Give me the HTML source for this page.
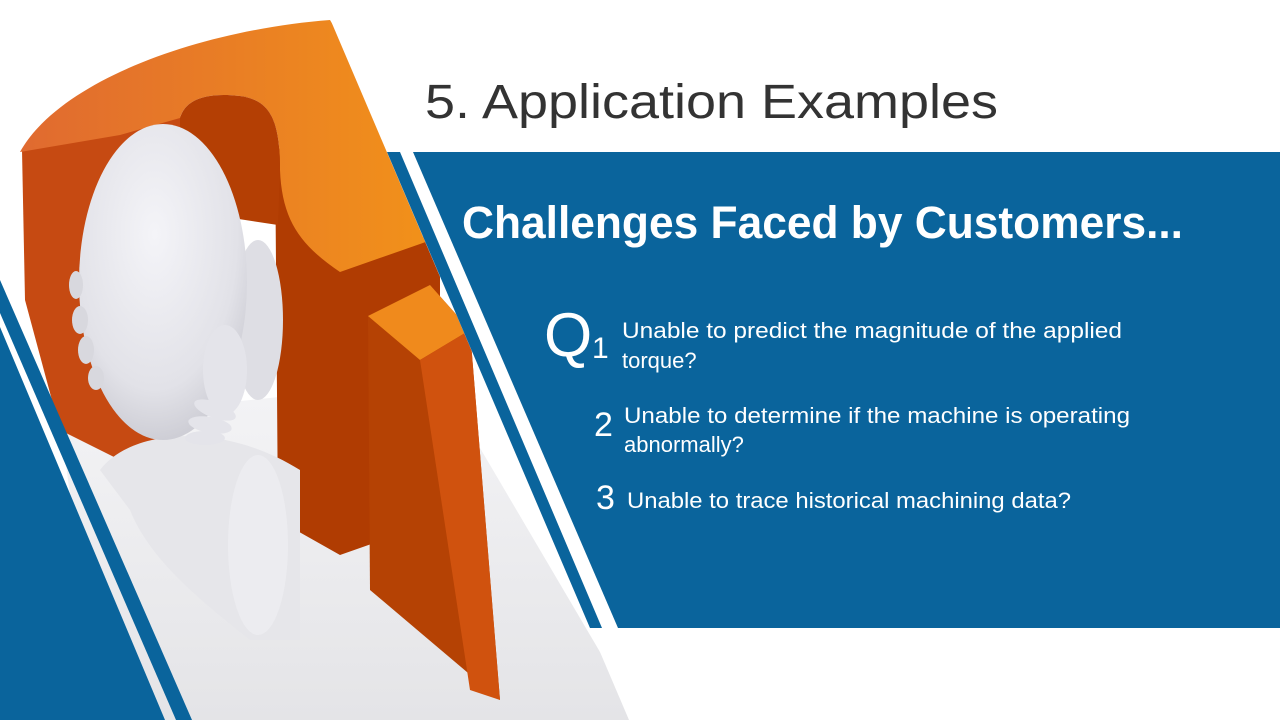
<!DOCTYPE html>
<html><head><meta charset="utf-8"><style>
html,body{margin:0;padding:0;background:#fff;}
svg{display:block;}
</style></head><body>
<svg width="1280" height="720" viewBox="0 0 1280 720" xmlns="http://www.w3.org/2000/svg">
<defs>
<linearGradient id="floor" x1="0" y1="0" x2="0" y2="1">
<stop offset="0" stop-color="#f4f4f6"/><stop offset="1" stop-color="#e4e4e7"/>
</linearGradient>
<radialGradient id="head" cx="0.45" cy="0.35" r="0.7">
<stop offset="0" stop-color="#f4f4f8"/><stop offset="0.7" stop-color="#e2e2e8"/><stop offset="1" stop-color="#c8c8d0"/>
</radialGradient>
<linearGradient id="top" x1="0" y1="0" x2="1" y2="0">
<stop offset="0" stop-color="#e06a30"/><stop offset="1" stop-color="#f39418"/>
</linearGradient>
<clipPath id="pic"><polygon points="0,0 322,0 629,720 0,720"/></clipPath>
</defs>
<rect width="1280" height="720" fill="#fff"/>
<g clip-path="url(#pic)">
<polygon points="60,420 440,380 640,720 100,720" fill="url(#floor)"/>
<path d="M22,150 L180,95 L185,420 L140,470 L60,430 L25,300 Z" fill="#c64a12"/>
<polygon points="275,140 340,270 440,230 440,520 340,555 278,520" fill="#b03c02"/>
<path d="M20,152 C60,80 200,30 330,20 L460,230 L340,272 C300,245 282,220 280,170 C280,120 270,100 240,96 C205,92 185,100 180,118 L120,135 Z" fill="url(#top)"/>
<path d="M180,118 C185,100 205,92 240,96 C270,100 280,120 280,170 L278,225 L180,210 Z" fill="#b43f04"/>
<polygon points="368,316 430,285 470,330 500,700 370,590" fill="#b54204"/>
<polygon points="368,316 430,285 470,330 420,360" fill="#f08a1c"/>
<polygon points="420,360 470,330 500,700 470,690" fill="#d0520e"/>
<path d="M100,470 C130,430 220,420 300,470 L300,640 L250,640 C200,600 150,560 130,510 Z" fill="#e6e6ea"/>
<ellipse cx="258" cy="545" rx="30" ry="90" fill="#ececf0"/>
<ellipse cx="258" cy="320" rx="25" ry="80" fill="#dedee4"/>
<ellipse cx="163" cy="282" rx="84" ry="158" fill="url(#head)"/>
<g fill="#d8d8de">
<ellipse cx="76" cy="285" rx="7" ry="14"/><ellipse cx="80" cy="320" rx="8" ry="14"/><ellipse cx="86" cy="350" rx="8" ry="14"/><ellipse cx="96" cy="378" rx="8" ry="12"/>
</g>
<g fill="#e4e4ea">
<ellipse cx="225" cy="370" rx="22" ry="45"/>
<ellipse cx="215" cy="410" rx="22" ry="8" transform="rotate(20 215 410)"/>
<ellipse cx="210" cy="425" rx="22" ry="8" transform="rotate(10 210 425)"/>
<ellipse cx="205" cy="438" rx="20" ry="7"/>
</g>
</g>
<polygon points="0,280 192,720 176,720 0,313" fill="#0a649c"/>
<polygon points="0,327 165,720 0,720" fill="#0a649c"/>
<polygon points="387,152 400,152 602,628 590,628" fill="#0a649c"/>
<polygon points="413,152 1280,152 1280,628 618,628" fill="#0a649c"/>
<text x="425" y="118" font-family="Liberation Sans, sans-serif" font-size="48" fill="#333" textLength="573" lengthAdjust="spacingAndGlyphs">5. Application Examples</text>
<text x="462" y="238" font-family="Liberation Sans, sans-serif" font-size="45" font-weight="bold" fill="#fff" textLength="721" lengthAdjust="spacingAndGlyphs">Challenges Faced by Customers...</text>
<g font-family="Liberation Sans, sans-serif" fill="#fff">
<text x="544" y="356" font-size="62">Q</text>
<text x="592" y="358" font-size="30">1</text>
<text x="622" y="338" font-size="22" textLength="500" lengthAdjust="spacingAndGlyphs">Unable to predict the magnitude of the applied</text>
<text x="622" y="368" font-size="22">torque?</text>
<text x="594" y="436" font-size="34">2</text>
<text x="624" y="423" font-size="22" textLength="506" lengthAdjust="spacingAndGlyphs">Unable to determine if the machine is operating</text>
<text x="624" y="452" font-size="22">abnormally?</text>
<text x="596" y="509" font-size="34">3</text>
<text x="627" y="508" font-size="22" textLength="444" lengthAdjust="spacingAndGlyphs">Unable to trace historical machining data?</text>
</g>
</svg>
</body></html>
